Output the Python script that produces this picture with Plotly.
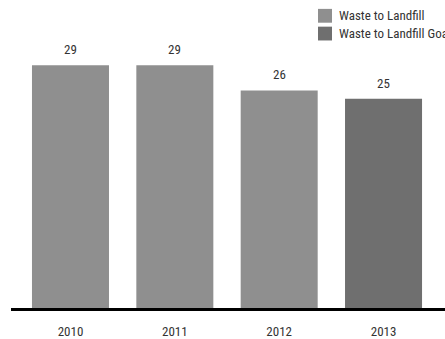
import plotly.graph_objects as go

years = ["2010", "2011", "2012", "2013"]
landfill_years = ["2010", "2011", "2012"]
landfill_values = [29, 29, 26]
goal_years = ["2013"]
goal_values = [25]

series_names = ["Waste to Landfill", "Waste to Landfill Goal"]
series_colors = ["#8f8f8f", "#6f6f6f"]

FONT = "Roboto Condensed, sans-serif"
TEXT = "#333333"

fig = go.Figure()
fig.add_trace(go.Bar(x=landfill_years, y=landfill_values, name=series_names[0],
                     marker=dict(color=series_colors[0], line=dict(width=0)), width=0.738))
fig.add_trace(go.Bar(x=goal_years, y=goal_values, name=series_names[1],
                     marker=dict(color=series_colors[1], line=dict(width=0)), width=0.738))

# value labels above each bar (category axis positions are indices)
for xs, ys in [(landfill_years, landfill_values), (goal_years, goal_values)]:
    for x, y in zip(xs, ys):
        fig.add_annotation(x=years.index(x), y=y, xref="x", yref="y", text=str(y),
                           showarrow=False, yanchor="bottom", yshift=6,
                           font=dict(size=13, color=TEXT, family=FONT))

# legend drawn as swatches with labels in the upper right
W, H = 445, 339
for i, (name, col) in enumerate(zip(series_names, series_colors)):
    top = 9 + i * 18
    fig.add_shape(type="rect", xref="paper", yref="paper",
                  x0=(318 - 11) / 434, x1=(332 - 11) / 434,
                  y0=(312 - (top + 14)) / 312, y1=(312 - top) / 312,
                  fillcolor=col, line=dict(width=0))
    fig.add_annotation(xref="paper", yref="paper", x=(337 - 11) / 434,
                       y=(312 - (top + 7)) / 312, text=name, showarrow=False,
                       xanchor="left", yanchor="middle",
                       font=dict(size=13, color=TEXT, family=FONT))

fig.update_layout(
    width=W, height=H,
    margin=dict(l=11, r=0, t=0, b=27),
    paper_bgcolor="white", plot_bgcolor="white",
    barmode="overlay",
    font=dict(family=FONT, size=13, color=TEXT),
    showlegend=False,
    xaxis=dict(type="category", categoryorder="array", categoryarray=years,
               range=[-0.57, 3.589],
               showgrid=False, zeroline=False, showline=True, linecolor="black",
               linewidth=2.5, ticks="outside", ticklen=10, tickcolor="rgba(0,0,0,0)",
               tickfont=dict(size=13, color=TEXT, family=FONT)),
    yaxis=dict(range=[0, 36.8], visible=False, showgrid=False, zeroline=False),
)

fig.write_html("out.html")
